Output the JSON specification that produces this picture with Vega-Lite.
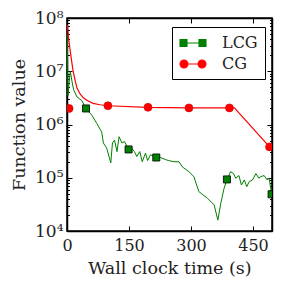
{
  "$schema": "https://vega.github.io/schema/vega-lite/v6.json",
  "autosize": "none",
  "width": 205,
  "height": 213,
  "padding": {"left": 67, "top": 18, "right": 10, "bottom": 60},
  "background": "white",
  "datasets": {
    "lines": [
      {"method": "LCG", "t": 0.5, "value": 50000000},
      {"method": "LCG", "t": 1.5, "value": 15000000},
      {"method": "LCG", "t": 2.5, "value": 3500000},
      {"method": "LCG", "t": 5, "value": 6000000},
      {"method": "LCG", "t": 8, "value": 10000000},
      {"method": "LCG", "t": 12, "value": 6500000},
      {"method": "LCG", "t": 16, "value": 4500000},
      {"method": "LCG", "t": 24, "value": 3300000},
      {"method": "LCG", "t": 36, "value": 2800000},
      {"method": "LCG", "t": 46, "value": 2000000},
      {"method": "LCG", "t": 60, "value": 1500000},
      {"method": "LCG", "t": 72, "value": 1050000},
      {"method": "LCG", "t": 84, "value": 720000},
      {"method": "LCG", "t": 88, "value": 450000},
      {"method": "LCG", "t": 96, "value": 360000},
      {"method": "LCG", "t": 106, "value": 190000},
      {"method": "LCG", "t": 110, "value": 450000},
      {"method": "LCG", "t": 115, "value": 510000},
      {"method": "LCG", "t": 121, "value": 310000},
      {"method": "LCG", "t": 126, "value": 590000},
      {"method": "LCG", "t": 133, "value": 450000},
      {"method": "LCG", "t": 139, "value": 480000},
      {"method": "LCG", "t": 149, "value": 340000},
      {"method": "LCG", "t": 156, "value": 360000},
      {"method": "LCG", "t": 163, "value": 310000},
      {"method": "LCG", "t": 169, "value": 250000},
      {"method": "LCG", "t": 176, "value": 310000},
      {"method": "LCG", "t": 182, "value": 200000},
      {"method": "LCG", "t": 190, "value": 290000},
      {"method": "LCG", "t": 195, "value": 210000},
      {"method": "LCG", "t": 202, "value": 270000},
      {"method": "LCG", "t": 216, "value": 240000},
      {"method": "LCG", "t": 226, "value": 240000},
      {"method": "LCG", "t": 238, "value": 220000},
      {"method": "LCG", "t": 246, "value": 210000},
      {"method": "LCG", "t": 258, "value": 200000},
      {"method": "LCG", "t": 271, "value": 200000},
      {"method": "LCG", "t": 279, "value": 160000},
      {"method": "LCG", "t": 295, "value": 130000},
      {"method": "LCG", "t": 307, "value": 105000},
      {"method": "LCG", "t": 319, "value": 55000},
      {"method": "LCG", "t": 340, "value": 41000},
      {"method": "LCG", "t": 356, "value": 31000},
      {"method": "LCG", "t": 365, "value": 16000},
      {"method": "LCG", "t": 372, "value": 33000},
      {"method": "LCG", "t": 380, "value": 63000},
      {"method": "LCG", "t": 387, "value": 93000},
      {"method": "LCG", "t": 396, "value": 130000},
      {"method": "LCG", "t": 403, "value": 120000},
      {"method": "LCG", "t": 408, "value": 98000},
      {"method": "LCG", "t": 416, "value": 110000},
      {"method": "LCG", "t": 422, "value": 73000},
      {"method": "LCG", "t": 429, "value": 91000},
      {"method": "LCG", "t": 435, "value": 68000},
      {"method": "LCG", "t": 441, "value": 85000},
      {"method": "LCG", "t": 449, "value": 91000},
      {"method": "LCG", "t": 457, "value": 120000},
      {"method": "LCG", "t": 464, "value": 98000},
      {"method": "LCG", "t": 469, "value": 105000},
      {"method": "LCG", "t": 477, "value": 110000},
      {"method": "LCG", "t": 484, "value": 91000},
      {"method": "LCG", "t": 489, "value": 98000},
      {"method": "LCG", "t": 495, "value": 50000},
      {"method": "CG", "t": 1, "value": 74000000},
      {"method": "CG", "t": 4, "value": 40000000},
      {"method": "CG", "t": 7, "value": 27000000},
      {"method": "CG", "t": 11, "value": 16000000},
      {"method": "CG", "t": 15, "value": 9800000},
      {"method": "CG", "t": 20, "value": 6500000},
      {"method": "CG", "t": 24, "value": 4900000},
      {"method": "CG", "t": 32, "value": 3700000},
      {"method": "CG", "t": 39, "value": 3200000},
      {"method": "CG", "t": 50, "value": 2800000},
      {"method": "CG", "t": 63, "value": 2500000},
      {"method": "CG", "t": 80, "value": 2350000},
      {"method": "CG", "t": 99, "value": 2250000},
      {"method": "CG", "t": 196, "value": 2100000},
      {"method": "CG", "t": 295, "value": 2050000},
      {"method": "CG", "t": 393, "value": 2050000},
      {"method": "CG", "t": 405, "value": 2050000},
      {"method": "CG", "t": 490, "value": 380000}
    ],
    "marks": [
      {"method": "LCG", "t": 46, "value": 2000000},
      {"method": "LCG", "t": 149, "value": 340000},
      {"method": "LCG", "t": 216, "value": 240000},
      {"method": "LCG", "t": 387, "value": 93000},
      {"method": "LCG", "t": 495, "value": 49000},
      {"method": "CG", "t": 5, "value": 2000000},
      {"method": "CG", "t": 99, "value": 2250000},
      {"method": "CG", "t": 196, "value": 2100000},
      {"method": "CG", "t": 295, "value": 2050000},
      {"method": "CG", "t": 393, "value": 2050000},
      {"method": "CG", "t": 490, "value": 380000}
    ]
  },
  "layer": [
    {
      "data": {"name": "lines"},
      "transform": [{"filter": "datum.method === 'LCG'"}],
      "mark": {"type": "line", "strokeWidth": 1, "clip": true},
      "encoding": {
        "x": {"field": "t", "type": "quantitative", "scale": {"domain": [0, 496], "nice": false, "zero": false},
          "axis": {"orient": "bottom", "values": [0, 150, 300, 450], "title": "Wall clock time (s)", "grid": false, "tickSize": -5, "labelPadding": 11, "titlePadding": 6}},
        "y": {"field": "value", "type": "quantitative", "scale": {"type": "log", "domain": [10000, 100000000], "nice": false},
          "axis": {"orient": "left", "title": "Function value", "grid": false,
            "values": [10000, 20000, 30000, 40000, 50000, 60000, 70000, 80000, 90000, 100000, 200000, 300000, 400000, 500000, 600000, 700000, 800000, 900000, 1000000, 2000000, 3000000, 4000000, 5000000, 6000000, 7000000, 8000000, 9000000, 10000000, 20000000, 30000000, 40000000, 50000000, 60000000, 70000000, 80000000, 90000000, 100000000],
            "labelExpr": "datum.value == 10000 ? '10⁴' : datum.value == 100000 ? '10⁵' : datum.value == 1000000 ? '10⁶' : datum.value == 10000000 ? '10⁷' : datum.value == 100000000 ? '10⁸' : ''",
            "tickSize": {"condition": {"test": "datum.value == 10000 || datum.value == 100000 || datum.value == 1000000 || datum.value == 10000000 || datum.value == 100000000", "value": -5}, "value": -2.5},
            "labelFontSize": 17,
            "labelPadding": 9, "titlePadding": 6}},
        "color": {"field": "method", "type": "nominal", "scale": {"domain": ["LCG", "CG"], "range": ["#008000", "#ff0000"]},
          "legend": {"title": null, "orient": "none", "legendX": 105, "legendY": 9,
            "labelFont": "DejaVu Serif", "labelFontSize": 16, "labelColor": "#222",
            "strokeColor": "black", "fillColor": "white", "padding": 7, "cornerRadius": 0,
            "symbolSize": 256, "symbolOffset": 5, "labelOffset": 20, "rowPadding": 4,
            "encode": {
              "symbols": {"update": {
                "shape": {"signal": "datum.value === 'LCG' ? 'M-1.19,0H1.19M-1.625,-0.44H-0.75V0.44H-1.625ZM0.75,-0.44H1.625V0.44H0.75Z' : 'M-1.19,0H1.19M-1.625,0A0.5,0.5 0 1,0 -0.625,0A0.5,0.5 0 1,0 -1.625,0ZM0.625,0A0.5,0.5 0 1,0 1.625,0A0.5,0.5 0 1,0 0.625,0Z'"},
                "fill": {"signal": "datum.value === 'LCG' ? '#008000' : '#ff0000'"},
                "stroke": {"signal": "datum.value === 'LCG' ? '#006000' : '#ff0000'"},
                "strokeWidth": {"value": 1.1},
                "opacity": {"value": 1}
              }},
              "labels": {"update": {
                "font": {"value": "DejaVu Serif"},
                "fontSize": {"value": 16},
                "fill": {"value": "#222"}
              }}
            }}}
      }
    },
    {
      "data": {"name": "marks"},
      "transform": [{"filter": "datum.method === 'LCG'"}],
      "mark": {"type": "point", "shape": "square", "filled": true, "size": 50, "stroke": "black", "strokeWidth": 0.8, "opacity": 1, "clip": true},
      "encoding": {
        "x": {"field": "t", "type": "quantitative", "axis": {"orient": "top", "values": [0, 150, 300, 450], "labels": false, "title": null, "grid": false, "tickSize": -5}},
        "y": {"field": "value", "type": "quantitative",
          "axis": {"orient": "right", "labels": false, "title": null, "grid": false,
            "values": [10000, 20000, 30000, 40000, 50000, 60000, 70000, 80000, 90000, 100000, 200000, 300000, 400000, 500000, 600000, 700000, 800000, 900000, 1000000, 2000000, 3000000, 4000000, 5000000, 6000000, 7000000, 8000000, 9000000, 10000000, 20000000, 30000000, 40000000, 50000000, 60000000, 70000000, 80000000, 90000000, 100000000],
            "tickSize": {"condition": {"test": "datum.value == 10000 || datum.value == 100000 || datum.value == 1000000 || datum.value == 10000000 || datum.value == 100000000", "value": -5}, "value": -2.5}}},
        "fill": {"field": "method", "type": "nominal", "scale": {"domain": ["LCG", "CG"], "range": ["#008000", "#ff0000"]}, "legend": null}
      }
    },
    {
      "data": {"name": "lines"},
      "transform": [{"filter": "datum.method === 'CG'"}],
      "mark": {"type": "line", "strokeWidth": 1.2, "clip": true},
      "encoding": {
        "x": {"field": "t", "type": "quantitative", "axis": null},
        "y": {"field": "value", "type": "quantitative", "axis": null},
        "color": {"field": "method", "type": "nominal"}
      }
    },
    {
      "data": {"name": "marks"},
      "transform": [{"filter": "datum.method === 'CG'"}],
      "mark": {"type": "point", "shape": "circle", "filled": true, "size": 64, "stroke": "#d00000", "strokeWidth": 0.6, "opacity": 1, "clip": true},
      "encoding": {
        "x": {"field": "t", "type": "quantitative", "axis": null},
        "y": {"field": "value", "type": "quantitative", "axis": null},
        "fill": {"field": "method", "type": "nominal", "legend": null}
      }
    }
  ],
  "resolve": {"axis": {"x": "independent", "y": "independent"}},
  "config": {
    "view": {"stroke": "black", "strokeWidth": 1.5},
    "font": "DejaVu Serif",
    "axis": {
      "domainColor": "black", "domainWidth": 1.5, "tickColor": "black", "tickWidth": 1,
      "labelFont": "DejaVu Serif", "labelFontSize": 16, "labelColor": "#222",
      "titleFont": "DejaVu Serif", "titleFontSize": 17.5, "titleFontWeight": "normal", "titleColor": "#222",
      "labelFlush": false, "labelOverlap": false
    },
    "legend": {
      "labelFont": "DejaVu Serif", "labelFontSize": 16
    },
    "line": {"strokeCap": "butt"}
  }
}
